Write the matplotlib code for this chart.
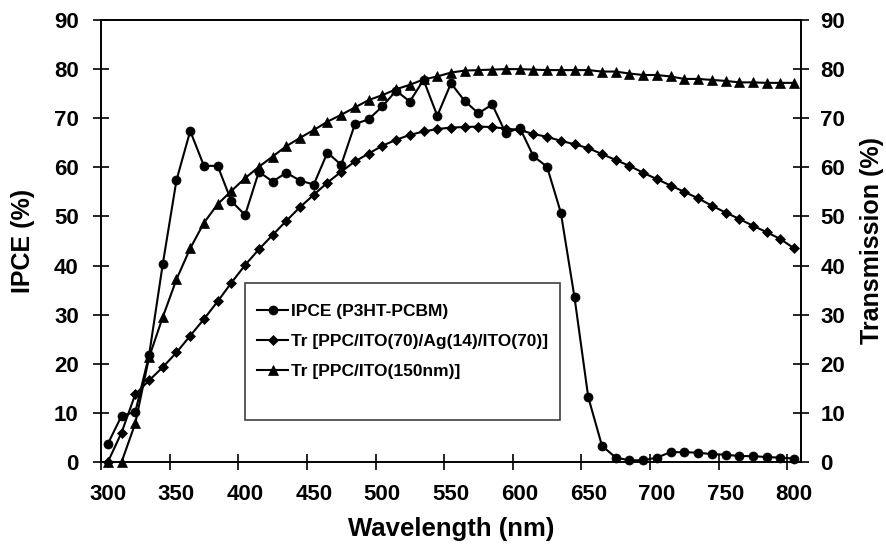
import numpy as np
import matplotlib
matplotlib.use('Agg')
import matplotlib.pyplot as plt
from matplotlib.patches import Rectangle

plt.rcParams['font.family'] = ['Liberation Sans', 'DejaVu Sans']
plt.rcParams['font.weight'] = 'bold'

# wavelength (nm), one point every 10 nm
wavelength = np.arange(300, 801, 10)

ipce = [3.7, 9.4, 10.2, 21.7, 40.3, 57.4, 67.4, 60.3, 60.3, 53.1,
        50.3, 59.1, 57.1, 58.9, 57.3, 56.5, 63.0, 60.5, 68.8, 69.8,
        72.4, 75.6, 73.4, 77.8, 70.5, 77.1, 73.5, 71.0, 72.8, 66.9,
        68.1, 62.3, 60.1, 50.8, 33.5, 13.2, 3.3, 0.9, 0.35, 0.35,
        0.9, 2.0, 2.0, 1.9, 1.6, 1.5, 1.2, 1.2, 1.0, 0.9,
        0.7]

tr_ag = [0.0, 6.0, 13.8, 16.6, 19.3, 22.3, 25.7, 29.1, 32.7, 36.5,
         40.1, 43.3, 46.2, 49.1, 51.9, 54.4, 56.9, 59.1, 61.2, 62.8,
         64.4, 65.6, 66.6, 67.3, 67.8, 68.1, 68.2, 68.3, 68.2, 67.9,
         67.6, 66.8, 66.2, 65.4, 64.7, 63.9, 62.7, 61.5, 60.3, 58.9,
         57.6, 56.3, 55.0, 53.7, 52.2, 50.8, 49.5, 48.1, 46.8, 45.4,
         43.5]

tr_ito = [0.0, 0.0, 7.9, 21.3, 29.5, 37.2, 43.5, 48.7, 52.5, 55.2,
          57.8, 60.1, 62.2, 64.3, 66.0, 67.6, 69.3, 70.7, 72.2, 73.7,
          74.7, 75.9, 76.8, 77.9, 78.5, 79.3, 79.7, 79.8, 79.9, 80.0,
          80.0, 79.9, 79.8, 79.8, 79.8, 79.8, 79.5, 79.5, 79.1, 78.8,
          78.8, 78.5, 78.0, 78.0, 77.8, 77.6, 77.3, 77.3, 77.2, 77.2,
          77.2]

labels = ['IPCE (P3HT-PCBM)',
          'Tr [PPC/ITO(70)/Ag(14)/ITO(70)]',
          'Tr [PPC/ITO(150nm)]']

xlabels = np.arange(300, 801, 50)
xmarks = np.arange(295, 800, 50)   # tick marks sit between categories
yticks = np.arange(0, 91, 10)

fig = plt.figure(figsize=(8.86, 5.51), dpi=100)
ax = fig.add_axes([101/886, 89/551, 700/886, 442/551])
ax2 = ax.twinx()

l1, = ax.plot(wavelength, ipce, '-o', color='black', lw=1.5, ms=6.5, mew=0.5, clip_on=False)
l2, = ax2.plot(wavelength, tr_ag, '-D', color='black', lw=1.5, ms=4.8, mew=0.5, clip_on=False)
l3, = ax2.plot(wavelength, tr_ito, '-^', color='black', lw=1.5, ms=7, mew=0.5, clip_on=False)

for a in (ax, ax2):
    a.set_xlim(295, 805)
    a.set_ylim(0, 90)
    a.set_yticks(yticks)
    for s in a.spines.values():
        s.set_linewidth(1.2)

ax.set_xticks(xmarks)
ax.set_xticklabels([])
ax.set_xticks(xlabels, minor=True)
ax.set_xticklabels([str(v) for v in xlabels], minor=True)
ax.tick_params(axis='x', which='major', direction='inout', length=12, width=1.2)
ax.tick_params(axis='x', which='minor', length=0, pad=16, labelsize=16)
ax.tick_params(axis='y', direction='inout', length=12, width=1.2, pad=10, labelsize=16)
ax2.tick_params(axis='y', direction='inout', length=12, width=1.2, pad=8, labelsize=16)

ax.set_xlabel('Wavelength (nm)', fontsize=18.5, fontweight='bold')
ax.xaxis.set_label_coords(0.5, -0.125)
ax.set_ylabel('IPCE (%)', fontsize=18, fontweight='bold')
ax.yaxis.set_label_coords(-0.094, 0.5)
ax2.set_ylabel('Transmission (%)', fontsize=18, fontweight='bold')
ax2.yaxis.set_label_coords(1.084, 0.5)

# legend box (resized in the original, so drawn separately)
ax2.add_patch(Rectangle(((245-101)/700, (462-420)/442), 315/700, 137/442,
                        transform=ax2.transAxes, fill=True, facecolor='white',
                        edgecolor='#404040', lw=1.2, zorder=5))
leg = ax2.legend([l1, l2, l3], labels, loc='upper left',
                 bbox_to_anchor=((257-101)/700, (462-304)/442),
                 frameon=False, fontsize=12.5, handlelength=1.8, handletextpad=0.15,
                 labelspacing=0.86, borderpad=0, borderaxespad=0)
leg.set_zorder(6)

fig.savefig('out.png', dpi=100)
